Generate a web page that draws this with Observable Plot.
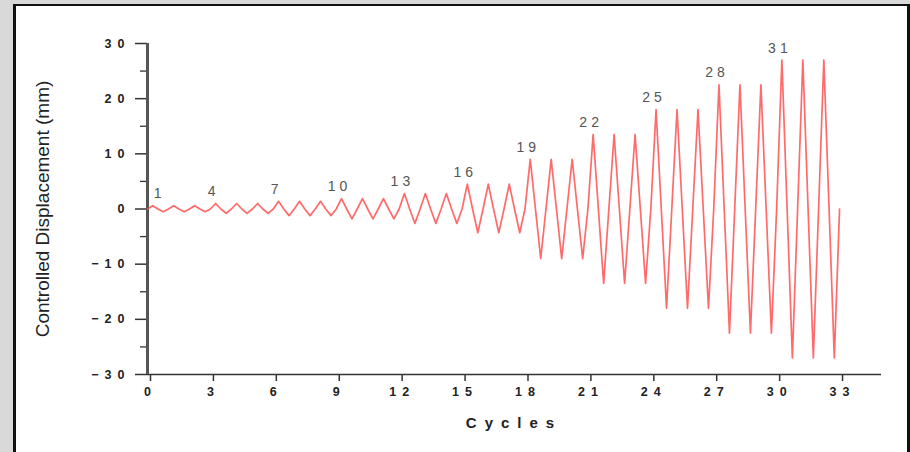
<!DOCTYPE html>
<html><head><meta charset="utf-8">
<script src="https://cdn.jsdelivr.net/npm/d3@7"></script>
<script src="https://cdn.jsdelivr.net/npm/@observablehq/plot@0.6"></script>
<style>
html,body{margin:0;padding:0;background:#d9d9d9;width:910px;height:452px;overflow:hidden;position:relative;font-family:"Liberation Sans",Arial,sans-serif;}
#frame{position:absolute;left:13px;top:4px;width:891px;height:460px;background:#fff;border-left:3px solid #111;border-top:2px solid #111;border-right:3px solid #111;}
#chart{position:absolute;left:0;top:0;}
#ytitle{position:absolute;left:43px;top:209px;transform:translate(-50%,-50%) rotate(-90deg);white-space:nowrap;font-size:19px;color:#222;}
#xtitle{position:absolute;left:510px;top:422px;transform:translate(-50%,-50%);white-space:nowrap;font-size:15px;font-weight:bold;letter-spacing:8px;color:#222;padding-left:8px;}
g[aria-label="x-axis tick label"] text, g[aria-label="y-axis tick label"] text{letter-spacing:6px;}
g[aria-label="text"] text{letter-spacing:4px;}
</style></head><body>
<div id="frame"></div>
<div id="chart"></div>
<div id="ytitle">Controlled Displacement (mm)</div>
<div id="xtitle">Cycles</div>
<script>
const cycleNo = [1,2,3,4,5,6,7,8,9,10,11,12,13,14,15,16,17,18,19,20,21,22,23,24,25,26,27,28,29,30,31,32,33];
const peakMm = [0.6,0.6,0.6, 1.0,1.0,1.0, 1.4,1.4,1.4, 1.9,1.9,1.9, 2.8,2.8,2.8, 4.5,4.5,4.5, 9,9,9, 13.5,13.5,13.5, 18,18,18, 22.5,22.5,22.5, 27,27,27];
const troughMm = [-0.5,-0.5,-0.5, -0.8,-0.8,-0.8, -1.2,-1.2,-1.2, -1.8,-1.8,-1.8, -2.6,-2.6,-2.6, -4.3,-4.3,-4.3, -9,-9,-9, -13.5,-13.5,-13.5, -18,-18,-18, -22.5,-22.5,-22.5, -27,-27,-27];
const labelCycles = [1,4,7,10,13,16,19,22,25,28,31];
const xTicks = [0,3,6,9,12,15,18,21,24,27,30,33];
const yTicks = [-30,-20,-10,0,10,20,30];
const yMinorTicks = [-25,-15,-5,5,15,25];

const pts = [];
cycleNo.forEach((c, i) => {
  pts.push({x: c - 1, y: 0}, {x: c - 0.75, y: peakMm[i]}, {x: c - 0.5, y: 0}, {x: c - 0.25, y: troughMm[i]});
});
pts.push({x: cycleNo[cycleNo.length - 1], y: 0});

const labelOpts = {x: c => c - 0.75, y: c => peakMm[c - 1], text: c => String(c), dy: -12, fill: "#555", fontSize: 14};

const chart = Plot.plot({
  width: 910, height: 452,
  marginLeft: 147, marginRight: 29, marginTop: 43, marginBottom: 78,
  x: {domain: [0, 35]},
  y: {domain: [-30, 30]},
  style: {background: "transparent", fontFamily: "'Liberation Sans', Arial, sans-serif", color: "#222"},
  marks: [
    Plot.axisY(yMinorTicks, {anchor: "left", tickSize: 7, tickFormat: () => "", label: null, stroke: "#333", strokeWidth: 1.3}),
    Plot.axisY(yTicks, {anchor: "left", tickSize: 12, tickPadding: 5, label: null, stroke: "#333", strokeWidth: 1.5, fontSize: 12.5, fontWeight: "bold"}),
    Plot.axisX(xTicks, {anchor: "bottom", tickSize: 7, tickPadding: 6, label: null, stroke: "#333", strokeWidth: 1.5, fontSize: 12.5, fontWeight: "bold", dx: 3}),
    Plot.ruleY([-30], {stroke: "#333", strokeWidth: 1.5}),
    Plot.ruleX([0], {stroke: "#555", strokeWidth: 3}),
    Plot.line(pts, {x: "x", y: "y", stroke: "#ff5050", strokeWidth: 1.7, strokeOpacity: 0.85}),
    Plot.text(labelCycles.slice(0, 1), {...labelOpts, dx: 7}),
    Plot.text(labelCycles.slice(1), {...labelOpts, dx: -2})
  ]
});
document.getElementById("chart").appendChild(chart);
</script>
</body></html>
